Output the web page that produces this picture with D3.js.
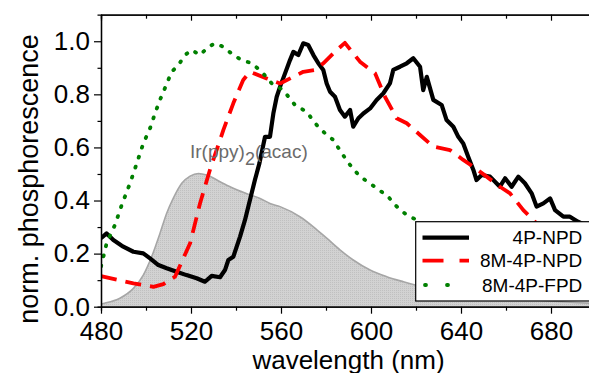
<!DOCTYPE html>
<html><head><meta charset="utf-8">
<script src="https://cdn.jsdelivr.net/npm/d3@7"></script>
<style>
body{margin:0;background:#fff;}
svg{display:block;font-family:"Liberation Sans",Arial,sans-serif;}
</style></head>
<body>
<svg id="chart" width="589" height="373"></svg>
<script>
// ---------- data ----------
const seriesNames = ["4P-NPD", "8M-4P-NPD", "8M-4P-FPD"];
const xMajorTicks = [480, 520, 560, 600, 640, 680];
const xMinorTicks = [500, 540, 580, 620, 660, 700];
const yMajorTicks = [0.0, 0.2, 0.4, 0.6, 0.8, 1.0];
const yMinorTicks = [0.1, 0.3, 0.5, 0.7, 0.9];
const annotationLabel = ["Ir(ppy)", "2", "(acac)"];

// Ir(ppy)2(acac) reference spectrum (shaded)
const irWl  = [480, 481, 488.4, 494.4, 498.8, 502.5, 506.2, 509.2, 512.1, 515.9, 519.6, 523.3, 527, 532.9, 538.8, 546.2, 550.7, 555.1, 559.6, 568.4, 574.4, 580.3, 586.2, 592.1, 599.6, 607, 614.4, 619.6, 630, 653, 670, 700];
const irVal = [0.01, 0.012, 0.032, 0.069, 0.119, 0.188, 0.276, 0.352, 0.408, 0.465, 0.492, 0.502, 0.496, 0.471, 0.446, 0.421, 0.408, 0.389, 0.377, 0.339, 0.301, 0.258, 0.214, 0.176, 0.138, 0.113, 0.094, 0.082, 0.062, 0.044, 0.028, 0.012];

// 4P-NPD
const npdWl  = [480, 482.5, 485.5, 489.9, 494.4, 498.8, 501.8, 505.5, 509.2, 513.6, 518, 522.5, 526.2, 529.2, 532.9, 535.1, 536.6, 538.8, 541.8, 544, 546.2, 548.4, 550.4, 552.9, 555.1, 556.6, 558.1, 559.6, 561.8, 564, 565.5, 567.7, 569.9, 572.1, 574.4, 576.6, 578.8, 580.3, 581.8, 584, 586.2, 588.4, 590.7, 592.1, 594.4, 596.6, 599.6, 602.5, 605.5, 608.4, 609.9, 612.9, 615.9, 618.8, 621.8, 623.2, 624.8, 627.7, 631.4, 633.6, 636.6, 638.8, 641, 643.2, 645.5, 646.9, 649.2, 652.9, 657.3, 659.6, 662.5, 665.5, 668.4, 671.4, 673.6, 676.6, 679.6, 681.8, 685.5, 688.4, 692, 697];
const npdVal = [0.258, 0.276, 0.251, 0.226, 0.207, 0.201, 0.182, 0.157, 0.145, 0.132, 0.119, 0.107, 0.094, 0.116, 0.111, 0.138, 0.176, 0.188, 0.264, 0.327, 0.402, 0.477, 0.540, 0.640, 0.640, 0.728, 0.791, 0.829, 0.879, 0.929, 0.960, 0.948, 0.992, 0.986, 0.948, 0.917, 0.892, 0.841, 0.810, 0.791, 0.741, 0.716, 0.741, 0.678, 0.710, 0.728, 0.747, 0.779, 0.804, 0.841, 0.892, 0.904, 0.917, 0.936, 0.904, 0.816, 0.866, 0.779, 0.760, 0.703, 0.678, 0.640, 0.615, 0.565, 0.515, 0.477, 0.496, 0.490, 0.452, 0.484, 0.452, 0.490, 0.465, 0.427, 0.377, 0.389, 0.408, 0.364, 0.339, 0.339, 0.32, 0.30];

// 8M-4P-NPD
const mNpdWl  = [480, 481, 494.4, 503.3, 507.7, 512.9, 519.6, 524, 528.4, 534.4, 538.8, 543.2, 546.2, 553.6, 559.6, 565.5, 569.9, 575.1, 578.8, 584.8, 588.4, 595.1, 601.8, 606.2, 611.4, 615.9, 621.8, 627.7, 635.1, 641, 645.5, 651.4, 657.3, 661.8, 667.7, 672.9, 680, 690, 700];
const mNpdVal = [0.115, 0.113, 0.088, 0.075, 0.085, 0.113, 0.239, 0.389, 0.515, 0.666, 0.766, 0.854, 0.885, 0.860, 0.841, 0.866, 0.885, 0.892, 0.917, 0.967, 0.994, 0.923, 0.879, 0.791, 0.710, 0.691, 0.647, 0.603, 0.590, 0.553, 0.527, 0.490, 0.452, 0.427, 0.364, 0.320, 0.25, 0.18, 0.14];

// 8M-4P-FPD
const fpdWl  = [480, 482.5, 486.2, 489.2, 492.9, 495.9, 498.8, 501.8, 504, 506.2, 508.4, 511.4, 514.4, 517.3, 520.3, 524, 527.7, 530.7, 534.4, 538.8, 542.5, 547, 551.4, 555.9, 561, 566.2, 571.4, 575.9, 580.3, 583.3, 587, 590.7, 595.1, 599.6, 603.3, 607, 610.7, 615.9, 620.3, 630, 650, 670, 700];
const fpdVal = [0.151, 0.239, 0.308, 0.383, 0.465, 0.540, 0.615, 0.672, 0.728, 0.779, 0.823, 0.885, 0.910, 0.948, 0.967, 0.948, 0.979, 0.992, 0.979, 0.948, 0.929, 0.917, 0.885, 0.841, 0.816, 0.760, 0.734, 0.684, 0.647, 0.628, 0.578, 0.534, 0.490, 0.465, 0.440, 0.421, 0.383, 0.345, 0.327, 0.27, 0.18, 0.10, 0.05];

// ---------- chart ----------
const svg = d3.select("#chart");
const pL = 101, pR = 596, pT = 14.7, pB = 306.7;
const x = d3.scaleLinear().domain([480, 700]).range([pL, pR]);
const y = d3.scaleLinear().domain([0, 1.1]).range([pB, pT]);

const defs = svg.append("defs");
defs.append("clipPath").attr("id", "plotclip").append("rect")
  .attr("x", pL).attr("y", pT).attr("width", pR - pL).attr("height", pB - pT);
const pat = defs.append("pattern").attr("id", "dots").attr("width", 2).attr("height", 2)
  .attr("patternUnits", "userSpaceOnUse");
pat.append("rect").attr("width", 2).attr("height", 2).attr("fill", "#d2d2d2");
pat.append("rect").attr("width", 1).attr("height", 1).attr("fill", "#c0c0c0");

const zip = (a, b) => a.map((v, i) => [v, b[i]]);
const plot = svg.append("g").attr("clip-path", "url(#plotclip)");

// shaded reference
const area = d3.area().x(d => x(d[0])).y0(y(0)).y1(d => y(d[1])).curve(d3.curveMonotoneX);
const lineC = d3.line().x(d => x(d[0])).y(d => y(d[1])).curve(d3.curveMonotoneX);
plot.append("path").datum(zip(irWl, irVal)).attr("d", area).attr("fill", "url(#dots)");
plot.append("path").datum(zip(irWl, irVal)).attr("d", lineC).attr("fill", "none")
  .attr("stroke", "#a6a6a6").attr("stroke-width", 1.6);

const line = d3.line().x(d => x(d[0])).y(d => y(d[1]));
const styles = [
  {c: "#000000", w: 4.2, dash: null, cap: "butt", legDash: null},
  {c: "#ff0000", w: 3.8, dash: "16,9", cap: "butt", legDash: "21,16"},
  {c: "#008000", w: 3.8, dash: "1,9.5", cap: "round", legDash: "1,21"}
];
const data = [zip(npdWl, npdVal), zip(mNpdWl, mNpdVal), zip(fpdWl, fpdVal)];
data.forEach((d, i) => {
  const s = styles[i];
  const p = plot.append("path").datum(d).attr("d", line).attr("fill", "none")
    .attr("stroke", s.c).attr("stroke-width", s.w).attr("stroke-linejoin", "round")
    .attr("stroke-linecap", s.cap);
  if (s.dash) p.attr("stroke-dasharray", s.dash);
});

// annotation
const ann = svg.append("text").attr("x", 190).attr("y", 158).attr("fill", "#6b6b6b")
  .style("font-size", "19px");
ann.append("tspan").text(annotationLabel[0]);
ann.append("tspan").attr("dy", 7).style("font-size", "18px").text(annotationLabel[1]);
ann.append("tspan").attr("dy", -7).text(annotationLabel[2]);

// axes
const fmt = d3.format(".1f");
function styleAxis(g) {
  g.select(".domain").attr("stroke", "#000").attr("stroke-width", 1.3);
  g.selectAll(".tick line").attr("stroke", "#000").attr("stroke-width", 1.2);
  g.selectAll("text").attr("fill", "#000").style("font-size", "26px")
    .style("font-family", "'Liberation Sans', Arial, sans-serif");
}
svg.append("g").attr("transform", `translate(0,${pB})`)
  .call(d3.axisBottom(x).tickValues(xMajorTicks).tickSizeInner(7).tickSizeOuter(0).tickPadding(8))
  .call(styleAxis);
svg.append("g").attr("transform", `translate(0,${pB})`)
  .call(d3.axisBottom(x).tickValues(xMinorTicks).tickSize(4).tickFormat(""))
  .call(styleAxis);
// top frame with inward ticks
svg.append("g").attr("transform", `translate(0,${pT})`)
  .call(d3.axisBottom(x).tickValues(xMajorTicks).tickSizeInner(6).tickSizeOuter(0).tickFormat(""))
  .call(styleAxis);
svg.append("g").attr("transform", `translate(0,${pT})`)
  .call(d3.axisBottom(x).tickValues(xMinorTicks).tickSize(4).tickFormat(""))
  .call(styleAxis);
svg.append("g").attr("transform", `translate(${pL},0)`)
  .call(d3.axisLeft(y).tickValues(yMajorTicks).tickSizeInner(7).tickSizeOuter(0).tickPadding(4).tickFormat(fmt))
  .call(styleAxis);
svg.append("g").attr("transform", `translate(${pL},0)`)
  .call(d3.axisLeft(y).tickValues(yMinorTicks).tickSize(3.5).tickFormat(""))
  .call(styleAxis);

// axis titles
svg.append("text").attr("x", (pL + pR) / 2).attr("y", 368.5).attr("text-anchor", "middle")
  .style("font-size", "26px").attr("fill", "#000").text("wavelength (nm)");
svg.append("text").attr("transform", "translate(37.5,179) rotate(-90)").attr("text-anchor", "middle")
  .style("font-size", "27px").attr("fill", "#000").text("norm. phosphorescence");

// legend
const leg = svg.append("g");
leg.append("rect").attr("x", 415.7).attr("y", 221.7).attr("width", 200).attr("height", 79.3)
  .attr("fill", "#fff").attr("stroke", "#000").attr("stroke-width", 1.2);
const legY = [237.7, 260.7, 285];
seriesNames.forEach((n, i) => {
  const s = styles[i];
  const l = leg.append("line").attr("x1", 422.5).attr("x2", 469).attr("y1", legY[i]).attr("y2", legY[i])
    .attr("stroke", s.c).attr("stroke-width", s.w).attr("stroke-linecap", s.cap);
  if (s.legDash) l.attr("stroke-dasharray", s.legDash);
  if (i === 2) l.attr("x1", 425).attr("x2", 448);
  leg.append("text").attr("x", 582.3).attr("y", legY[i]).attr("dy", "0.35em")
    .attr("text-anchor", "end").style("font-size", "19px").attr("fill", "#000").text(n);
});
</script>
</body></html>
